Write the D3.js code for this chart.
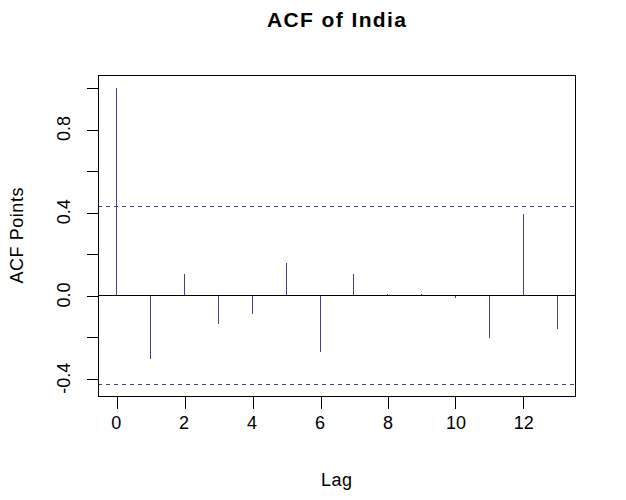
<!DOCTYPE html>
<html lang="en">
<head>
<meta charset="UTF-8">
<title>ACF of India</title>
<script src="https://cdn.jsdelivr.net/npm/d3@7"></script>
<style>
  body { margin: 0; background: #fff; }
  text { font-family: "Liberation Sans", Arial, sans-serif; fill: #000; }
  line, rect { shape-rendering: crispEdges; }
</style>
</head>
<body>
<div id="chart"></div>
<script>
// lags and autocorrelation values
const lags = [0, 1, 2, 3, 4, 5, 6, 7, 8, 9, 10, 11, 12, 13];
const acfValues = [1.0, -0.302, 0.107, -0.133, -0.088, 0.160, -0.268, 0.104, 0.011, 0.011, -0.008, -0.204, 0.393, -0.157];
const confLimit = 0.428;
const xTicks = [0, 2, 4, 6, 8, 10, 12];
const yTicks = [-0.4, -0.2, 0, 0.2, 0.4, 0.6, 0.8, 1.0];
const yLabels = [-0.4, 0, 0.4, 0.8];

const width = 626, height = 500;
const box = {left: 98, right: 575, top: 75, bottom: 396};

const svg = d3.select("#chart")
    .append("svg")
    .attr("width", width)
    .attr("height", height);

// R style: 4% extension of the data range
const xr = [0, 13], yr = [-confLimit, 1];
const xpad = (xr[1] - xr[0]) * 0.04, ypad = (yr[1] - yr[0]) * 0.04;

const x = d3.scaleLinear()
    .domain([xr[0] - xpad, xr[1] + xpad])
    .range([box.left, box.right]);

const y = d3.scaleLinear()
    .domain([yr[0] - ypad, yr[1] + ypad])
    .range([box.bottom, box.top]);

const px = v => Math.round(v) + 0.5;
const spikeColor = "#42428a";

// spikes
svg.append("g")
    .selectAll("line")
    .data(lags)
    .join("line")
        .attr("x1", d => px(x(d)))
        .attr("x2", d => px(x(d)))
        .attr("y1", px(y(0)))
        .attr("y2", (d, i) => px(y(acfValues[i])))
        .attr("stroke", spikeColor)
        .attr("stroke-width", 1);

// zero line
svg.append("line")
    .attr("x1", box.left).attr("x2", box.right)
    .attr("y1", px(y(0))).attr("y2", px(y(0)))
    .attr("stroke", "#000");

// confidence bounds
svg.append("g")
    .selectAll("line")
    .data([confLimit, -confLimit])
    .join("line")
        .attr("x1", box.left).attr("x2", box.right)
        .attr("y1", d => px(y(d))).attr("y2", d => px(y(d)))
        .attr("stroke", "#38477a")
        .attr("stroke-dasharray", "4,4");

// box
svg.append("rect")
    .attr("x", box.left + 0.5).attr("y", box.top + 0.5)
    .attr("width", box.right - box.left).attr("height", box.bottom - box.top)
    .attr("fill", "none")
    .attr("stroke", "#000");

// x axis
const xAxis = svg.append("g")
    .attr("transform", `translate(0,${box.bottom + 0.5})`)
    .call(d3.axisBottom(x).tickValues(xTicks).tickSize(12).tickSizeOuter(0).tickPadding(8).tickFormat(d3.format("d")));
xAxis.select(".domain").remove();
xAxis.selectAll("text").style("font-size", "18px").attr("font-family", null);
xAxis.selectAll("line")
    .attr("stroke", "#000")
    .attr("x1", d => px(x(d)) - x(d)).attr("x2", d => px(x(d)) - x(d));

// y axis
const yAxis = svg.append("g")
    .attr("transform", `translate(${box.left + 0.5},0)`)
    .call(d3.axisLeft(y).tickValues(yTicks).tickSize(12).tickSizeOuter(0).tickFormat(() => ""));
yAxis.select(".domain").remove();
yAxis.selectAll("line")
    .attr("stroke", "#000")
    .attr("y1", d => px(y(d)) - y(d)).attr("y2", d => px(y(d)) - y(d));

svg.append("g")
    .selectAll("text")
    .data(yLabels)
    .join("text")
        .attr("transform", d => `translate(70,${y(d)}) rotate(-90)`)
        .attr("text-anchor", "middle")
        .style("font-size", "18px")
        .text(d => d.toFixed(1));

// titles
svg.append("text")
    .attr("x", (box.left + box.right) / 2)
    .attr("y", 27)
    .attr("text-anchor", "middle")
    .attr("textLength", 139)
    .attr("lengthAdjust", "spacing")
    .style("font-size", "21px")
    .style("font-weight", "bold")
    .text("ACF of India");

svg.append("text")
    .attr("x", (box.left + box.right) / 2)
    .attr("y", 486)
    .attr("text-anchor", "middle")
    .attr("textLength", 31)
    .attr("lengthAdjust", "spacing")
    .style("font-size", "18px")
    .text("Lag");

svg.append("text")
    .attr("transform", `translate(23,${(box.top + box.bottom) / 2}) rotate(-90)`)
    .attr("text-anchor", "middle")
    .attr("textLength", 96)
    .attr("lengthAdjust", "spacing")
    .style("font-size", "18px")
    .text("ACF Points");
</script>
</body>
</html>
